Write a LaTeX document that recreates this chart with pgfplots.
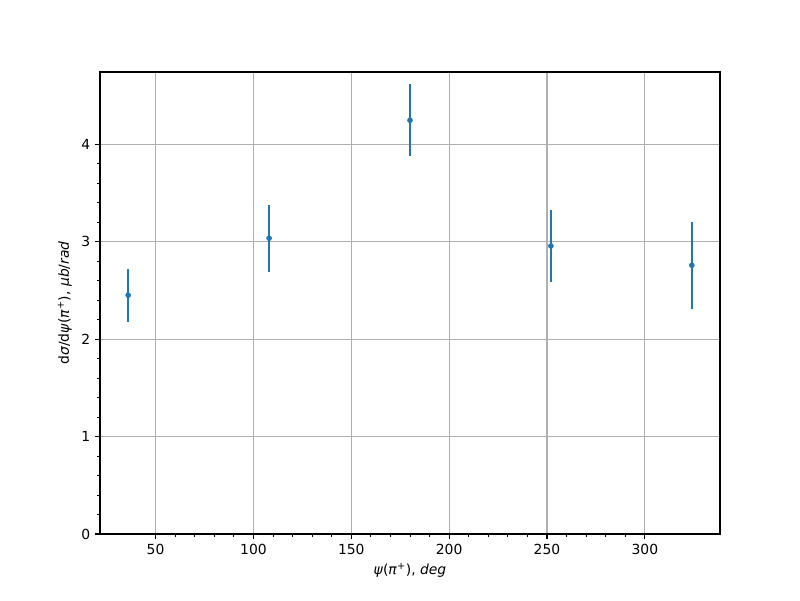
\documentclass[border=0pt]{standalone}
\usepackage{fontspec}
\setmainfont{DejaVu Sans}
\usepackage{pgfplots}
\pgfplotsset{compat=1.18}
\definecolor{tabblue}{HTML}{1F77B4}
\definecolor{gridgray}{HTML}{B0B0B0}
\begin{document}
\fontsize{10pt}{12pt}\selectfont
\begin{tikzpicture}
\useasboundingbox (-72pt,-47.52pt) rectangle (504pt,384.48pt);
\begin{axis}[
    at={(0,0)}, anchor=south west,
    scale only axis,
    width=446.4pt, height=332.64pt,
    xmin=21.6, xmax=338.4,
    ymin=0, ymax=4.74,
    xtick={50,100,...,300},
    ytick={0,1,2,3,4},
    minor x tick num=4,
    minor y tick num=4,
    tick align=outside,
    major tick length=3.5pt,
    minor tick length=2pt,
    every tick/.style={black, line width=0.8pt},
    minor tick style={line width=0.6pt},
    xtick pos=bottom, ytick pos=left,
    axis line style={line width=0.8pt},
    xmajorgrids, ymajorgrids,
    major grid style={gridgray, line width=0.8pt},
    /pgf/number format/assume math mode=true,
    ticklabel style={font=\fontsize{10pt}{12pt}\selectfont},
    xlabel={\textit{ψ}(\textit{π}\textsuperscript{+}), \textit{deg}},
    ylabel={d\textit{σ}/d\textit{ψ}(\textit{π}\textsuperscript{+}), \textit{μb}/\textit{rad}},
    label style={font=\fontsize{10pt}{12pt}\selectfont},
]
\addplot[only marks, mark=*, mark size=1.8pt, color=tabblue,
    error bars/.cd, y dir=both, y explicit, error mark=none,
    error bar style={line width=1.5pt, tabblue}]
coordinates {
(36,2.45) +- (0,0.27)
(108,3.035) +- (0,0.345)
(180,4.245) +- (0,0.37)
(252,2.955) +- (0,0.37)
(324,2.757) +- (0,0.448)
};
\end{axis}
\end{tikzpicture}
\end{document}
